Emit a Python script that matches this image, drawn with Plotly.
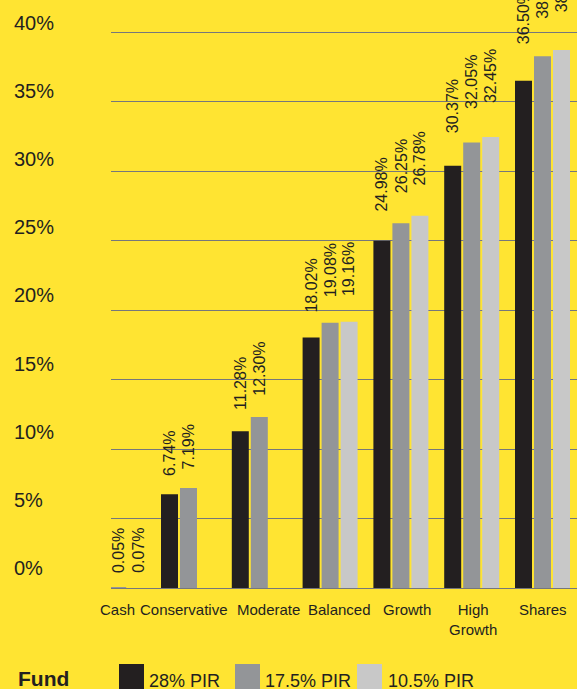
import plotly.graph_objects as go

# ---------------- data ----------------
categories = ["Cash", "Conservative", "Moderate", "Balanced", "Growth", "High Growth", "Shares"]
category_labels = ["Cash", "Conservative", "Moderate", "Balanced", "Growth", "High<br>Growth", "Shares"]
series_names = ["28% PIR", "17.5% PIR", "10.5% PIR"]
pir_28 = [0.05, 6.74, 11.28, 18.02, 24.98, 30.37, 36.50]
pir_175 = [0.07, 7.19, 12.30, 19.08, 26.25, 32.05, 38.25]
pir_105 = [None, None, None, 19.16, 26.78, 32.45, 38.70]
y_ticks = [0, 5, 10, 15, 20, 25, 30, 35, 40]
y_tick_labels = ["0%", "5%", "10%", "15%", "20%", "25%", "30%", "35%", "40%"]
legend_title = "Fund"

# ---------------- style / layout ----------------
W, H = 577, 689
ML, MR, MT, MB = 111, 0, 0, 101
PLOT_W = W - ML - MR
PLOT_H = H - MT - MB
PX_PER_PCT = 13.9
CAT_PX = 70.8
FIRST_CAT_PX = 117.7

BG = "#FFE432"
TXT = "#231F20"
GRID = "#76777b"
colors = ["#231F20", "#939598", "#C8C8C8"]
FONT = "Liberation Sans, Arial, Helvetica, sans-serif"

series = [pir_28, pir_175, pir_105]

fig = go.Figure()
for name, vals, col in zip(series_names, series, colors):
    fig.add_trace(go.Bar(x=categories, y=vals, name=name, marker=dict(color=col, line=dict(width=0)),
                         showlegend=False, hoverinfo="skip"))

x0 = -(FIRST_CAT_PX - ML) / CAT_PX
x1 = x0 + PLOT_W / CAT_PX
fig.update_layout(
    width=W, height=H,
    margin=dict(l=ML, r=MR, t=MT, b=MB, pad=0),
    paper_bgcolor=BG, plot_bgcolor=BG,
    barmode="group", bargap=0.195, bargroupgap=0.105,
    font=dict(family=FONT, color=TXT),
    xaxis=dict(type="category", range=[x0, x1], showgrid=False, showticklabels=False,
               ticks="", showline=True, linecolor=GRID, linewidth=1, zeroline=False, fixedrange=True),
    yaxis=dict(range=[0, PLOT_H / PX_PER_PCT], tickvals=y_ticks, showticklabels=False, ticks="",
               showgrid=True, gridcolor=GRID, gridwidth=1, zeroline=False, showline=False, fixedrange=True),
)

annotations = []
# value labels (rotated), staggered above bars
label_nudge = {"Cash": 20}
for si, vals in enumerate(series):
    for cat, v in zip(categories, vals):
        if v is None:
            continue
        annotations.append(dict(
            x=cat, y=v, xref="x", yref="y", text=f"{v:.2f}%", showarrow=False,
            textangle=-90, xanchor="center", yanchor="bottom",
            xshift=(si - 1) * 19 + label_nudge.get(cat, 0),
            yshift=13.4 + 0.59 * v,
            font=dict(size=16, color=TXT, family=FONT), borderpad=0,
        ))

# category labels
cat_shift = [0, -4.5, 9.3, 9, 5.6, 1.3, 0]
for cat, lab, sh in zip(categories, category_labels, cat_shift):
    annotations.append(dict(
        x=cat, y=0, xref="x", yref="paper", text=lab, showarrow=False,
        xanchor="center", yanchor="top", yshift=-12, xshift=sh, align="center",
        font=dict(size=15, color=TXT, family=FONT), borderpad=0,
    ))

# y tick labels (left aligned)
for v, lab in zip(y_ticks, y_tick_labels):
    annotations.append(dict(
        x=0, y=v, xref="paper", yref="y", text=lab, showarrow=False,
        xanchor="left", yanchor="middle", xshift=13 - ML, yshift=20 - 0.27 * v,
        font=dict(size=20, color=TXT, family=FONT), borderpad=0,
    ))

def px_x(p):
    return (p - ML) / PLOT_W

def px_y(p):
    return (MT + PLOT_H - p) / PLOT_H

# legend
annotations.append(dict(
    x=px_x(17), y=px_y(679), xref="paper", yref="paper", text=f"<b>{legend_title}</b>",
    showarrow=False, xanchor="left", yanchor="middle",
    font=dict(size=21, color=TXT, family=FONT), borderpad=0,
))
shapes = []
sq_left = [119, 235, 357]
txt_left = [148, 264, 387]
for name, col, sl, tl in zip(series_names, colors, sq_left, txt_left):
    shapes.append(dict(type="rect", xref="paper", yref="paper",
                       x0=px_x(sl), x1=px_x(sl + 25), y0=px_y(664), y1=px_y(700),
                       fillcolor=col, line=dict(width=0)))
    annotations.append(dict(
        x=px_x(tl), y=px_y(681), xref="paper", yref="paper", text=name,
        showarrow=False, xanchor="left", yanchor="middle",
        font=dict(size=18, color=TXT, family=FONT), borderpad=0,
    ))

fig.update_layout(annotations=annotations, shapes=shapes)
fig.write_html("out.html", config={"displayModeBar": False})
